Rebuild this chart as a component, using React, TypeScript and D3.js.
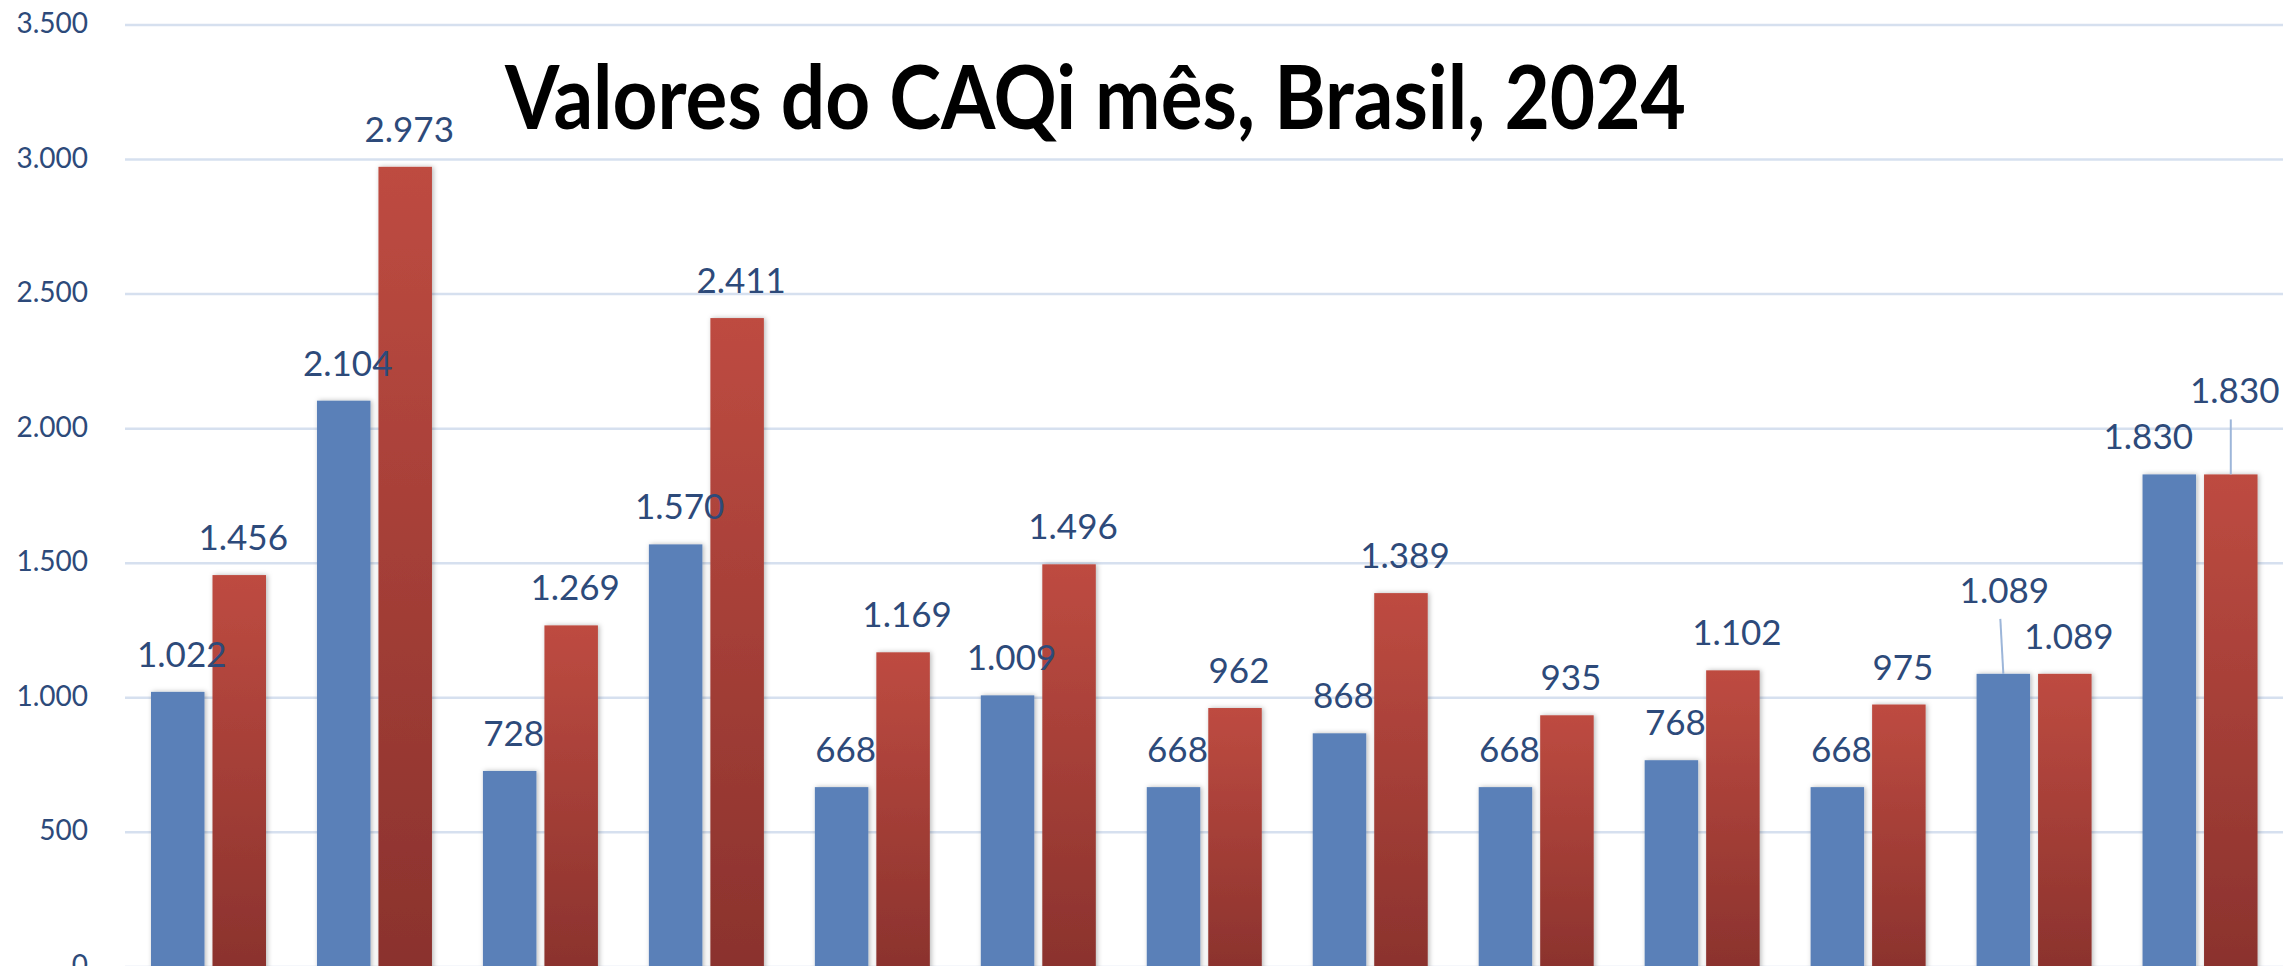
import React from 'react';
import * as d3 from 'd3';

const categories = ['1', '2', '3', '4', '5', '6', '7', '8', '9', '10', '11', '12', '13'];
const blueValues = [1022, 2104, 728, 1570, 668, 1009, 668, 868, 668, 768, 668, 1089, 1830];
const redValues = [1456, 2973, 1269, 2411, 1169, 1496, 962, 1389, 935, 1102, 975, 1089, 1830];
const yTicks = [0, 500, 1000, 1500, 2000, 2500, 3000, 3500];
const title = 'Valores do CAQi mês, Brasil, 2024';

// label nudges that the original chart has (dx, dy, leader line)
const labelMoves: Record<string, { dx: number; dy: number; leader?: boolean }> = {
  'blue-11': { dx: -3, dy: -46, leader: true },
  'blue-12': { dx: -25, dy: 0 },
  'red-12': { dx: 0, dy: -46, leader: true },
};

const W = 2285;
const H = 966;
const textColor = '#2D4A7A';

const br = d3.formatLocale({ decimal: ',', thousands: '.', grouping: [3], currency: ['R$', ''] });
const fmt = br.format(',d');

export default function App() {
  const x = d3.scaleBand<string>().domain(categories).range([125.5, 2283]).padding(0);
  const x1 = d3.scaleBand<string>().domain(['blue', 'red'])
    .range([25.5, 140.5]).paddingInner(0.13).paddingOuter(0);
  const y = d3.scaleLinear().domain([0, 3500]).range([966.9, 25]);

  const series = [
    { key: 'blue', values: blueValues, fill: '#5A80B8' },
    { key: 'red', values: redValues, fill: 'url(#redGrad)' },
  ];

  return (
    <div>
      <style>{`body{margin:0}`}</style>
      <svg width={W} height={H} style={{ display: 'block', background: '#fff' }}>
        <defs>
          <linearGradient id="redGrad" x1="0" y1="0" x2="0" y2="1">
            <stop offset="0%" stopColor="#BE4B41" />
            <stop offset="100%" stopColor="#8A322D" />
          </linearGradient>
          <filter id="shadow" x="-20%" y="-5%" width="140%" height="110%">
            <feDropShadow dx="1.5" dy="0" stdDeviation="2.5" floodColor="#000" floodOpacity="0.28" />
          </filter>
        </defs>

        {/* gridlines */}
        <g>
          {yTicks.map(t => (
            <line key={t} x1={125} x2={2283} y1={y(t)} y2={y(t)} stroke="#D6E0EF" strokeWidth={2.5} />
          ))}
        </g>

        {/* y labels */}
        <g fontFamily="Lato, sans-serif" fontSize={28} fill={textColor} textAnchor="end">
          {yTicks.map(t => (
            <text key={t} x={88} y={y(t) - 3} dominantBaseline="central">{fmt(t)}</text>
          ))}
        </g>

        {/* bars */}
        <g filter="url(#shadow)">
          {series.map(s =>
            s.values.map((v, i) => (
              <rect
                key={s.key + i}
                x={(x(categories[i]) as number) + (x1(s.key) as number)}
                y={y(v)}
                width={x1.bandwidth()}
                height={y(0) - y(v) + 5}
                fill={s.fill}
              />
            ))
          )}
        </g>

        {/* data labels */}
        <g fontFamily="Lato, sans-serif" fontSize={35} fill={textColor} textAnchor="middle">
          {series.map(s =>
            s.values.map((v, i) => {
              const cx = (x(categories[i]) as number) + (x1(s.key) as number) + x1.bandwidth() / 2;
              const mv = labelMoves[s.key + '-' + i] || { dx: 0, dy: 0 };
              const lx = cx + 4 + mv.dx;
              const ly = y(v) - 25 + mv.dy;
              return (
                <g key={s.key + i}>
                  {mv.leader && (
                    <line x1={lx - 4} y1={ly + 16} x2={cx} y2={y(v)} stroke="#9DB6D9" strokeWidth={2} />
                  )}
                  <text x={lx} y={ly}>{fmt(v)}</text>
                </g>
              );
            })
          )}
        </g>

        <text
          x={505}
          y={129}
          fontFamily="Lato, sans-serif"
          fontWeight={700}
          fontSize={88}
          textLength={1181}
          lengthAdjust="spacingAndGlyphs"
          fill="#000"
        >
          {title}
        </text>
      </svg>
    </div>
  );
}
